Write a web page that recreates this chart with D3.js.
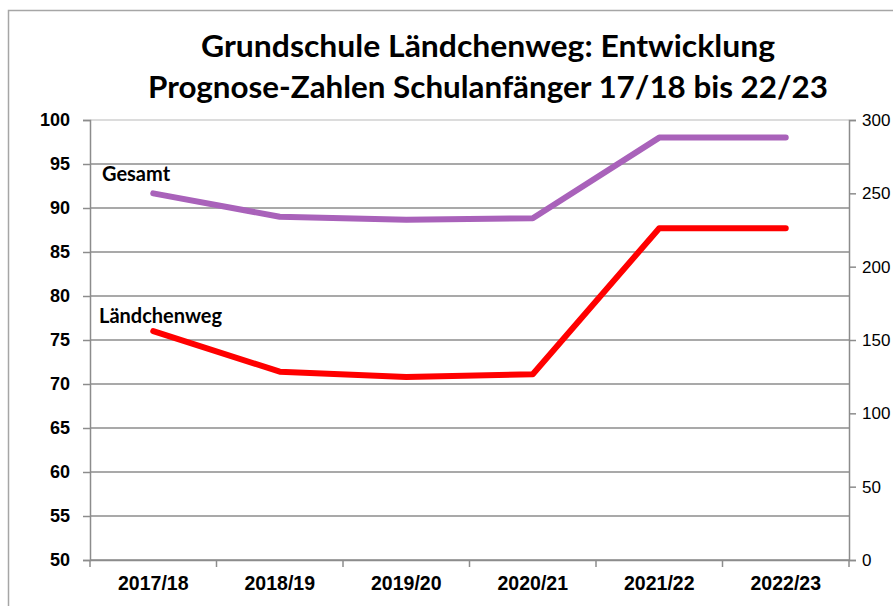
<!DOCTYPE html>
<html>
<head>
<meta charset="utf-8">
<script src="https://cdn.jsdelivr.net/npm/d3@7"></script>
<style>
  body { margin: 0; background: #fff; }
  svg { display: block; font-family: Lato, "Open Sans", sans-serif; }
</style>
</head>
<body>
<svg width="893" height="606"></svg>
<script>
// Schuljahre und Prognosewerte
var jahre = ["2017/18", "2018/19", "2019/20", "2020/21", "2021/22", "2022/23"];
var laendchenweg = [76, 71.4, 70.8, 71.1, 87.7, 87.7];   // linke Achse
var gesamt = [250, 234, 232, 233, 288, 288];             // rechte Achse
var ticksLinks = [50, 55, 60, 65, 70, 75, 80, 85, 90, 95, 100];
var ticksRechts = [0, 50, 100, 150, 200, 250, 300];
var titel = ["Grundschule Ländchenweg: Entwicklung",
             "Prognose-Zahlen Schulanfänger 17/18 bis 22/23"];
var titelBreite = [574, 680];

var svg = d3.select("svg"),
    margin = {top: 120, right: 44, bottom: 46, left: 90},
    width = +svg.attr("width") - margin.left - margin.right,
    height = +svg.attr("height") - margin.top - margin.bottom;

var grau = "#8c8c8c";

// Rahmen des Diagramms
svg.append("rect")
    .attr("x", 8.5).attr("y", 10.5)
    .attr("width", 1000).attr("height", 1000)
    .attr("fill", "none")
    .attr("stroke", "#a6a6a6")
    .attr("stroke-width", 1.5);

var g = svg.append("g").attr("transform", "translate(" + margin.left + "," + margin.top + ")");

var x = d3.scaleBand().domain(jahre).range([0, width]);
var yL = d3.scaleLinear().domain([50, 100]).range([height, 0]);
var yR = d3.scaleLinear().domain([0, 300]).range([height, 0]);

// Gitternetz
g.append("g")
    .selectAll("line")
    .data(ticksLinks)
    .enter().append("line")
    .attr("x1", 0).attr("x2", width)
    .attr("y1", function(d) { return yL(d); })
    .attr("y2", function(d) { return yL(d); })
    .attr("stroke", function(d) { return d === 100 ? "#d0d0d0" : grau; })
    .attr("stroke-width", 1.5);

// linke Achse
var achseL = g.append("g")
    .call(d3.axisLeft(yL).tickValues(ticksLinks).tickSize(7).tickPadding(13));
achseL.selectAll("text")
    .style("font-size", "18px").style("font-weight", "bold").attr("fill", "#000");

// rechte Achse
var achseR = g.append("g")
    .attr("transform", "translate(" + width + ",0)")
    .call(d3.axisRight(yR).tickValues(ticksRechts).tickSize(7).tickPadding(6));
achseR.selectAll("text")
    .style("font-size", "17px").attr("fill", "#000");

// x-Achse
var achseX = g.append("g")
    .attr("transform", "translate(0," + height + ")")
    .call(d3.axisBottom(x).tickSize(0).tickPadding(16));
achseX.selectAll("text")
    .style("font-size", "19.5px").style("font-weight", "bold").attr("fill", "#000");
achseX.selectAll(".grenze")
    .data(d3.range(jahre.length + 1))
    .enter().append("line")
    .attr("class", "grenze")
    .attr("x1", function(i) { return i * x.step(); })
    .attr("x2", function(i) { return i * x.step(); })
    .attr("y1", 0).attr("y2", 7)
    .attr("stroke", grau).attr("stroke-width", 1.5);

svg.selectAll(".domain, .tick line").attr("stroke", grau).attr("stroke-width", 1.5);

// Linien
var linieL = d3.line()
    .x(function(d, i) { return x(jahre[i]) + x.bandwidth() / 2; })
    .y(function(d) { return yL(d); });
var linieR = d3.line()
    .x(function(d, i) { return x(jahre[i]) + x.bandwidth() / 2; })
    .y(function(d) { return yR(d); });

g.append("path")
    .datum(gesamt)
    .attr("d", linieR)
    .attr("fill", "none")
    .attr("stroke", "#a962ba")
    .attr("stroke-width", 6)
    .attr("stroke-linecap", "round")
    .attr("stroke-linejoin", "round");

g.append("path")
    .datum(laendchenweg)
    .attr("d", linieL)
    .attr("fill", "none")
    .attr("stroke", "#ff0000")
    .attr("stroke-width", 6)
    .attr("stroke-linecap", "round")
    .attr("stroke-linejoin", "round");

// Beschriftungen der Reihen
g.append("text")
    .attr("x", 12).attr("y", yR(gesamt[0]) - 12)
    .style("font-size", "20px").style("font-weight", "bold")
    .text("Gesamt");
g.append("text")
    .attr("x", 9).attr("y", yL(laendchenweg[0]) - 8)
    .style("font-size", "20px").style("font-weight", "bold")
    .text("Ländchenweg");

// Titel
svg.selectAll(".titel")
    .data(titel)
    .enter().append("text")
    .attr("class", "titel")
    .attr("x", 488)
    .attr("y", function(d, i) { return 57 + i * 41; })
    .attr("text-anchor", "middle")
    .attr("textLength", function(d, i) { return titelBreite[i]; })
    .attr("lengthAdjust", "spacingAndGlyphs")
    .style("font-size", "30px").style("font-weight", "bold")
    .text(function(d) { return d; });
</script>
</body>
</html>
